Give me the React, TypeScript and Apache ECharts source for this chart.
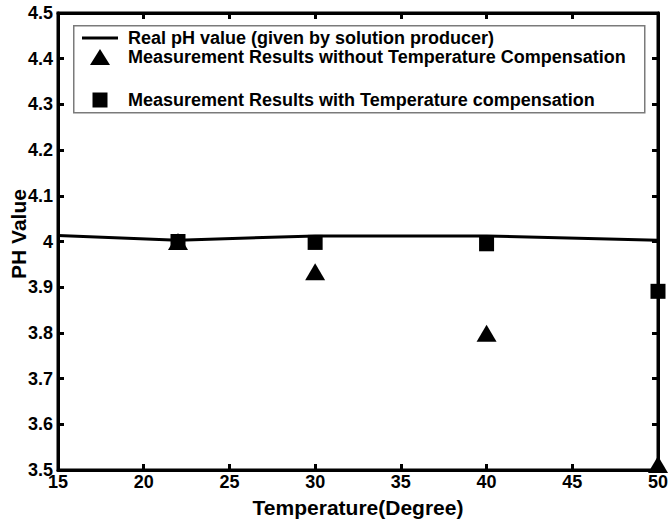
import React, { useEffect, useRef } from "react";
import * as echarts from "echarts";

const lineName = "Real pH value (given by solution producer)";
const triName = "Measurement Results without Temperature Compensation";
const sqName = "Measurement Results with Temperature compensation";
const xTitle = "Temperature(Degree)";
const yTitle = "PH Value";

const realTemps = [15, 22, 30, 40, 50];
const realPH = [4.013, 4.003, 4.012, 4.012, 4.003];

const measTemps = [22, 30, 40, 50];
const phWithout = [4.0, 3.934, 3.799, 3.512];
const phWith = [4.0, 3.998, 3.995, 3.891];

const xMin = 15, xMax = 50, xStep = 5;
const yMin = 3.5, yMax = 4.5, yStep = 0.1;

const FONT = '"Liberation Sans", Arial, Helvetica, sans-serif';

export default function App() {
  const ref = useRef<HTMLDivElement>(null);
  useEffect(() => {
    if (!ref.current) return;
    const chart = echarts.init(ref.current, undefined, { renderer: "svg" });
    const axisLine = () => ({ show: true, onZero: false, lineStyle: { color: "#000", width: 3 } });
    const axisTick = () => ({ show: true, inside: true, length: 6, lineStyle: { color: "#000", width: 3 } });
    const zip = (xs: number[], ys: number[]) => xs.map((x, i) => [x, ys[i]]);
    const legendText = (pad: number) => ({
      color: "#000",
      fontSize: 18,
      fontWeight: "bold",
      fontFamily: FONT,
      padding: [0, 0, 0, pad],
    });
    chart.setOption({
      animation: false,
      grid: { left: 58, right: 11, top: 13, bottom: 52, outerBoundsMode: "none" },
      xAxis: [
        {
          type: "value", min: xMin, max: xMax, interval: xStep,
          axisLine: axisLine(), axisTick: axisTick(), splitLine: { show: false },
          axisLabel: { color: "#000", fontSize: 18, fontWeight: "bold", fontFamily: FONT, margin: 3 },
        },
        {
          type: "value", position: "top", min: xMin, max: xMax, interval: xStep,
          axisLine: axisLine(), axisTick: axisTick(), splitLine: { show: false }, axisLabel: { show: false },
        },
      ],
      yAxis: [
        {
          type: "value", min: yMin, max: yMax, interval: yStep,
          axisLine: axisLine(), axisTick: axisTick(), splitLine: { show: false },
          axisLabel: { color: "#000", fontSize: 18, fontWeight: "bold", fontFamily: FONT, margin: 5 },
        },
        {
          type: "value", position: "right", min: yMin, max: yMax, interval: yStep,
          axisLine: axisLine(), axisTick: axisTick(), splitLine: { show: false }, axisLabel: { show: false },
        },
      ],
      legend: [
        {
          data: [{ name: lineName, icon: "rect", itemStyle: { color: "#000" } }],
          left: 82, top: 29, padding: 0, itemWidth: 36, itemHeight: 3,
          textStyle: legendText(5), selectedMode: false,
        },
        {
          data: [{ name: triName, icon: "triangle", itemStyle: { color: "#000" } }],
          left: 90, top: 48, padding: 0, itemWidth: 20, itemHeight: 16,
          symbolKeepAspect: false,
          textStyle: legendText(13), selectedMode: false,
        },
        {
          data: [{ name: sqName, icon: "rect", itemStyle: { color: "#000" } }],
          left: 92.5, top: 91, padding: 0, itemWidth: 15, itemHeight: 15,
          textStyle: legendText(15.5), selectedMode: false,
        },
      ],
      graphic: [
        {
          type: "rect", left: 73, top: 25, z: 0,
          shape: { width: 571, height: 87 },
          style: { fill: "#fff", stroke: "#7a7a7a", lineWidth: 1.5 },
        },
        {
          type: "rect", z: 10, silent: true,
          shape: { x: 58, y: 13, width: 600, height: 457 },
          style: { fill: "none", stroke: "#000", lineWidth: 3 },
        },
        {
          type: "text", x: 358, y: 507,
          style: {
            text: xTitle, fill: "#000", fontSize: 21, fontWeight: "bold", fontFamily: FONT,
            align: "center", verticalAlign: "middle",
          },
        },
        {
          type: "text", x: 18, y: 234, rotation: Math.PI / 2,
          style: {
            text: yTitle, fill: "#000", fontSize: 21, fontWeight: "bold", fontFamily: FONT,
            align: "center", verticalAlign: "middle",
          },
        },
      ],
      series: [
        {
          name: lineName, type: "line", data: zip(realTemps, realPH),
          showSymbol: false, symbol: "none",
          lineStyle: { color: "#000", width: 3 }, itemStyle: { color: "#000" }, z: 3,
        },
        {
          name: triName, type: "scatter", data: zip(measTemps, phWithout),
          symbol: "triangle", symbolSize: [20, 17], clip: false,
          itemStyle: { color: "#000", opacity: 1 }, z: 4,
        },
        {
          name: sqName, type: "scatter", data: zip(measTemps, phWith),
          symbol: "rect", symbolSize: 15, clip: false,
          itemStyle: { color: "#000", opacity: 1 }, z: 4,
        },
      ],
    });
    return () => chart.dispose();
  }, []);
  return (
    <div
      ref={ref}
      style={{ position: "fixed", left: 0, top: 0, width: 669, height: 522, background: "#fff" }}
    />
  );
}
